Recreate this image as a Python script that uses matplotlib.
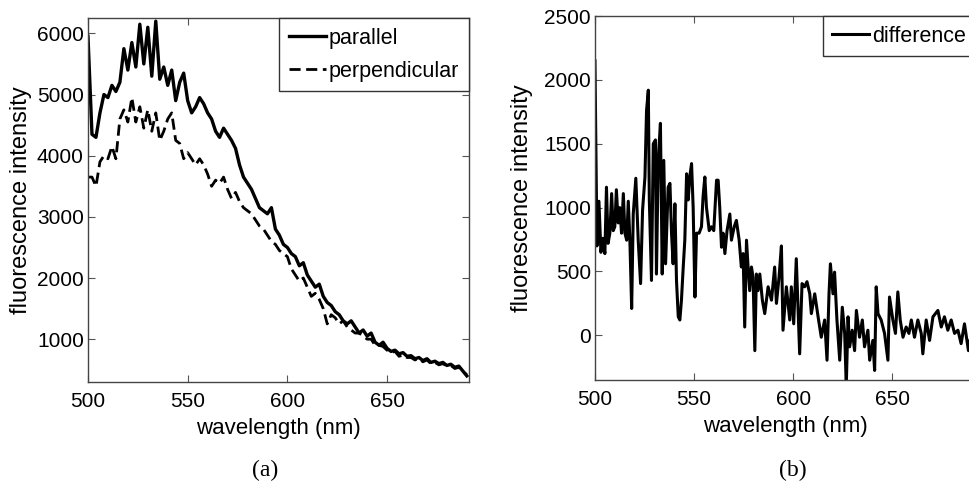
import numpy as np
import matplotlib
matplotlib.use('Agg')
import matplotlib.pyplot as plt

# Spectra, 2 nm steps
wavelength = np.arange(500, 692, 2)

parallel = [
    5950, 4350, 4300, 4700, 5000, 4950, 5150, 5050, 5200, 5750,
    5400, 5850, 5450, 6150, 5500, 6100, 5300, 6200, 5250, 5450,
    5150, 5400, 4900, 5200, 5350, 4900, 4700, 4800, 4950, 4850,
    4700, 4600, 4400, 4300, 4450, 4350, 4250, 4120, 3850, 3650,
    3550, 3450, 3300, 3150, 3100, 3050, 3150, 2800, 2700, 2550,
    2500, 2400, 2350, 2200, 2250, 2050, 1950, 1850, 1900, 1700,
    1600, 1550, 1450, 1400, 1300, 1250, 1300, 1200, 1100, 1150,
    1050, 1100, 950, 900, 950, 850, 800, 820, 760, 780,
    720, 730, 680, 700, 650, 680, 620, 640, 600, 620,
    570, 590, 540, 560, 480, 400,
]

perpendicular = [
    3650, 3650, 3500, 3900, 4000, 3950, 4150, 3950, 4600, 4750,
    4550, 4950, 4550, 4800, 4450, 4750, 4400, 4700, 4250, 4400,
    4600, 4700, 4250, 4200, 3950, 4050, 3950, 3850, 3950, 3850,
    3700, 3500, 3600, 3550, 3650, 3450, 3300, 3400, 3250, 3150,
    3100, 3050, 2950, 2850, 2800, 2700, 2600, 2550, 2450, 2400,
    2350, 2150, 2050, 1950, 2000, 1850, 1700, 1750, 1650, 1500,
    1250, 1400, 1350, 1250, 1300, 1200, 1150, 1100, 1100, 1050,
    1000, 1000, 900, 900, 880, 820, 780, 800, 720, 740,
    700, 700, 660, 680, 630, 660, 600, 620, 580, 600,
    560, 570, 520, 540, 470, 420,
]

# Difference trace, irregular points picked at its spikes
diff_nm = [
    500, 501, 502, 503, 504, 505, 505.8, 506.6, 507.5, 508.4,
    509.2, 510, 510.8, 511.7, 512.5, 513.4, 514.3, 515.1, 516, 516.8,
    517.6, 518.5, 519.3, 520.6, 521.8, 523, 524, 525.2, 526, 526.9,
    527.4, 528.5, 529.4, 530.5, 531, 531.9, 533, 533.9, 534.7, 535.6,
    536.9, 537.8, 538.6, 539.4, 540.3, 541.1, 542, 542.8, 543.6, 544.5,
    545.3, 546.2, 547, 547.8, 548.7, 549.5, 550.4, 551.2, 552.5, 553.7,
    554.5, 555.4, 556.2, 557.6, 558.7, 559.9, 561.3, 562.1, 562.9, 563.8,
    564.6, 565.5, 566.6, 568, 568.8, 570.2, 571.3, 572.7, 573.8, 574.7,
    575.5, 576.4, 577.2, 578, 578.9, 579.7, 580.6, 581.4, 582.2, 583.1,
    584.4, 585.6, 587.3, 589, 590.6, 591.5, 592.8, 594, 594.8, 596.5,
    598.2, 599, 600.2, 601.5, 603.2, 604.4, 605.7, 606.9, 608.3, 609.1,
    610.8, 612.5, 614.1, 615.8, 617, 618, 618.7, 620, 620.8, 622,
    623.4, 624.7, 625.9, 626.7, 627.6, 628.4, 629.7, 630.9, 631.8, 633.4,
    634.8, 635.9, 637.6, 638.5, 640.1, 641, 641.8, 642.7, 644.3, 646,
    647.7, 648.5, 650.2, 651.5, 652.7, 653.9, 655.3, 656.9, 658.3, 659.5,
    661.1, 662.8, 664.5, 665.3, 667, 668.7, 670.4, 672.9, 674.6, 676.2,
    677.9, 679.6, 681.3, 683, 684.6, 686.3, 688.3, 690,
]

difference = [
    2150, 700, 1050, 650, 760, 640, 1160, 720, 800, 1110,
    820, 850, 1140, 880, 1000, 800, 1110, 800, 745, 1050,
    745, 210, 950, 1230, 745, 405, 980, 1240, 1760, 1920,
    1060, 430, 1500, 1530, 480, 1370, 1660, 480, 1370, 560,
    1160, 1190, 800, 560, 1030, 430, 145, 120, 275, 535,
    745, 1265, 1060, 1240, 1345, 1005, 300, 800, 800, 850,
    1085, 1240, 1005, 820, 850, 820, 1215, 1215, 1005, 690,
    800, 640, 820, 950, 745, 850, 900, 745, 535, 640,
    65, 745, 535, 350, 535, 455, -120, 480, 350, 480,
    275, 170, 380, 275, 535, 250, 455, 700, 40, 380,
    120, 380, 90, 600, -145, 405, 380, 420, 325, 170,
    325, 145, -15, 120, -195, 325, 560, 325, 495, 120,
    -195, 220, 15, -400, 145, -90, 40, -120, 195, -15,
    120, -90, 40, -195, -40, -275, 380, 170, 120, 15,
    -195, 300, 120, 15, 340, 120, -15, 65, 15, 120,
    -15, 120, 15, -145, 120, -40, 145, 195, 65, 145,
    40, 120, 15, 40, -65, 90, -120, 50,
]

left_yticks = [1000, 2000, 3000, 4000, 5000, 6000]
right_yticks = [0, 500, 1000, 1500, 2000, 2500]
xticks = [500, 550, 600, 650]

plt.rcParams['font.family'] = ['Liberation Sans', 'DejaVu Sans']

fig = plt.figure(figsize=(9.69, 4.82), dpi=100)
ax1 = fig.add_axes([0.0908, 0.2075, 0.393, 0.755])
ax2 = fig.add_axes([0.614, 0.2116, 0.393, 0.755])

# Panel (a): both polarisations
ax1.plot(wavelength, parallel, color='black', linewidth=2.4, label='parallel')
ax1.plot(wavelength, perpendicular, color='black', linewidth=2.0,
         linestyle=(0, (4, 2)), label='perpendicular')
ax1.set_xlim(500, 691)
ax1.set_ylim(300, 6250)
ax1.set_yticks(left_yticks)
ax1.yaxis.set_label_coords(-0.147, 0.5)

# Panel (b): difference
ax2.plot(diff_nm, difference, color='black', linewidth=2.2, label='difference')
ax2.set_xlim(500, 692)
ax2.set_ylim(-350, 2500)
ax2.set_yticks(right_yticks)
ax2.yaxis.set_label_coords(-0.163, 0.5)

for ax in (ax1, ax2):
    ax.set_xticks(xticks)
    ax.tick_params(direction='in', length=5, width=0.8, top=True, right=True,
                   labelsize=15, color='#555555')
    ax.tick_params(axis='x', pad=7)
    ax.tick_params(axis='y', pad=3)
    for sp in ax.spines.values():
        sp.set_color('#444444')
        sp.set_linewidth(1.0)
    ax.set_xlabel('wavelength (nm)', fontsize=16)
    ax.set_ylabel('fluorescence intensity', fontsize=17)
    ax.xaxis.set_label_coords(0.5, -0.1)
    leg = ax.legend(loc='upper right', borderaxespad=0, fontsize=15.5,
                    handlelength=1.7, handletextpad=0.15, borderpad=0.45,
                    labelspacing=0.55, fancybox=False, framealpha=1)
    leg.get_frame().set_edgecolor('#333333')
    leg.get_frame().set_linewidth(1.0)

fig.text(0.2735, 0.023, '(a)', ha='center', va='center', fontsize=17,
         family='Liberation Serif')
fig.text(0.818, 0.023, '(b)', ha='center', va='center', fontsize=17,
         family='Liberation Serif')

plt.savefig('out.png', dpi=100, facecolor='white')
plt.close()
